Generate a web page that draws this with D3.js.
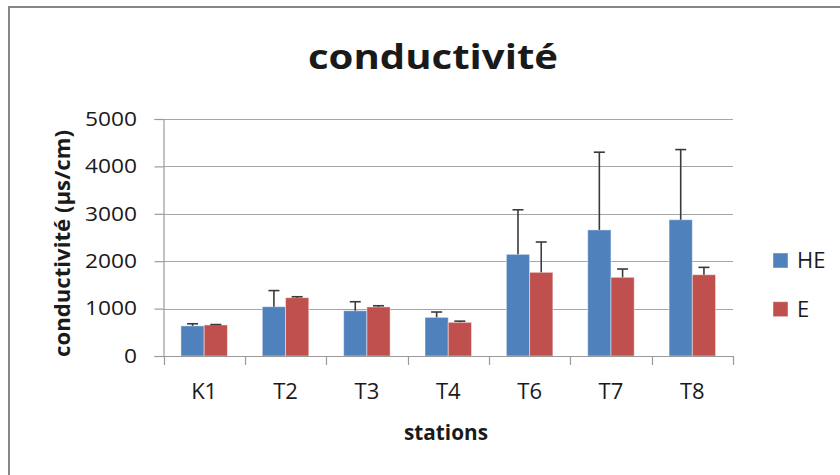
<!DOCTYPE html>
<html>
<head>
<meta charset="utf-8">
<script src="https://cdn.jsdelivr.net/npm/d3@7"></script>
<style>
  html, body { margin: 0; padding: 0; background: #fff; }
  svg { display: block; }
  text { font-family: "Open Sans", "Liberation Sans", sans-serif; fill: #1a1a1a; }
</style>
</head>
<body>
<svg id="chart" width="840" height="475"></svg>
<script>
const categories = ["K1", "T2", "T3", "T4", "T6", "T7", "T8"];
const seriesNames = ["HE", "E"];
const valuesHE = [635, 1040, 955, 815, 2145, 2660, 2875];
const errorsHE = [45, 340, 190, 113, 940, 1640, 1480];
const valuesE = [655, 1230, 1035, 710, 1765, 1660, 1715];
const errorsE = [8, 20, 25, 25, 640, 175, 155];
const yTicks = [0, 1000, 2000, 3000, 4000, 5000];
const colors = ["#4F81BD", "#C0504D"];

const svg = d3.select("#chart");

// chart area border
svg.append("rect")
  .attr("x", 9).attr("y", 7)
  .attr("width", 840).attr("height", 480)
  .attr("fill", "#fff")
  .attr("stroke", "#878787").attr("stroke-width", 2);

const plotLeft = 163.5, plotRight = 733, plotTop = 119, plotBottom = 356;

const x0 = d3.scaleBand().domain(categories).range([plotLeft, plotRight]).paddingInner(0).paddingOuter(0);
const x1 = d3.scaleBand().domain(seriesNames).range([0, x0.bandwidth()]).paddingInner(0).paddingOuter(0.75);
const y = d3.scaleLinear().domain([0, 5000]).range([plotBottom, plotTop]);

// gridlines
svg.append("g").selectAll("line").data(yTicks.filter(d => d > 0)).join("line")
  .attr("x1", plotLeft).attr("x2", plotRight)
  .attr("y1", d => Math.round(y(d)) + 0.5).attr("y2", d => Math.round(y(d)) + 0.5)
  .attr("stroke", "#a6a6a6").attr("stroke-width", 1.2);

// bars
const data = categories.map((c, i) => ({
  cat: c,
  items: [
    { s: "HE", v: valuesHE[i], e: errorsHE[i], color: colors[0] },
    { s: "E", v: valuesE[i], e: errorsE[i], color: colors[1] }
  ]
}));

const groups = svg.append("g").selectAll("g").data(data).join("g")
  .attr("transform", d => `translate(${x0(d.cat)},0)`);

groups.selectAll("rect").data(d => d.items).join("rect")
  .attr("x", d => x1(d.s))
  .attr("y", d => y(d.v))
  .attr("width", x1.bandwidth())
  .attr("height", d => y(0) - y(d.v))
  .attr("fill", d => d.color)
  .attr("stroke", "rgba(255,255,255,0.45)")
  .attr("stroke-width", 1);

// error bars (plus only)
const err = groups.selectAll("g.err").data(d => d.items).join("g").attr("class", "err");
err.append("line")
  .attr("x1", d => x1(d.s) + x1.bandwidth() / 2)
  .attr("x2", d => x1(d.s) + x1.bandwidth() / 2)
  .attr("y1", d => y(d.v))
  .attr("y2", d => y(d.v + d.e))
  .attr("stroke", "#3a3a3a").attr("stroke-width", 1.6);
err.append("line")
  .attr("x1", d => x1(d.s) + x1.bandwidth() / 2 - 5.5)
  .attr("x2", d => x1(d.s) + x1.bandwidth() / 2 + 5.5)
  .attr("y1", d => y(d.v + d.e))
  .attr("y2", d => y(d.v + d.e))
  .attr("stroke", "#3a3a3a").attr("stroke-width", 1.6);

// y axis
const yAxis = svg.append("g")
  .attr("transform", `translate(${plotLeft},0)`)
  .call(d3.axisLeft(y).tickValues(yTicks).tickSize(9).tickPadding(17).tickFormat(d3.format("d")));
yAxis.select(".domain").attr("stroke", "#9a9a9a").attr("stroke-width", 1.2);
yAxis.selectAll(".tick line").attr("stroke", "#9a9a9a").attr("stroke-width", 1.2);
yAxis.selectAll(".tick text")
  .attr("x", 137 - plotLeft)
  .attr("font-size", 19.5)
  .attr("fill", "#1a1a1a")
  .attr("textLength", d => String(d).length * 13)
  .attr("lengthAdjust", "spacingAndGlyphs");

// x axis
const xAxis = svg.append("g")
  .attr("transform", `translate(0,${plotBottom})`)
  .call(d3.axisBottom(x0).tickSize(0).tickPadding(0));
xAxis.select(".domain").attr("stroke", "#9a9a9a").attr("stroke-width", 1.2);
xAxis.selectAll(".tick text")
  .attr("y", 43.3).attr("dy", 0)
  .attr("font-size", 22)
  .attr("fill", "#1a1a1a");
// category boundary tick marks
const bounds = categories.map(c => x0(c)).concat([x0(categories[categories.length - 1]) + x0.bandwidth()]);
svg.append("g").selectAll("line").data(bounds).join("line")
  .attr("x1", d => Math.round(d) + 0.5).attr("x2", d => Math.round(d) + 0.5)
  .attr("y1", plotBottom).attr("y2", plotBottom + 9)
  .attr("stroke", "#9a9a9a").attr("stroke-width", 1.2);

// title
svg.append("text")
  .attr("x", 433).attr("y", 69)
  .attr("text-anchor", "middle")
  .attr("font-size", 34).attr("font-weight", "bold")
  .attr("fill", "#000")
  .attr("textLength", 250).attr("lengthAdjust", "spacingAndGlyphs")
  .text("conductivité");

// x axis title
svg.append("text")
  .attr("x", 446).attr("y", 440)
  .attr("text-anchor", "middle")
  .attr("font-size", 21).attr("font-weight", "bold")
  .attr("fill", "#000")
  .attr("textLength", 84).attr("lengthAdjust", "spacingAndGlyphs")
  .text("stations");

// y axis title
svg.append("text")
  .attr("transform", "translate(70,243.5) rotate(-90)")
  .attr("text-anchor", "middle")
  .attr("font-size", 21).attr("font-weight", "bold")
  .attr("fill", "#000")
  .attr("textLength", 227).attr("lengthAdjust", "spacingAndGlyphs")
  .text("conductivité (µs/cm)");

// legend
const legend = svg.append("g").selectAll("g").data(seriesNames).join("g")
  .attr("transform", (d, i) => `translate(773,${253 + i * 48.7})`);
legend.append("rect")
  .attr("width", 15).attr("height", 15)
  .attr("fill", (d, i) => colors[i])
  .attr("stroke", "rgba(255,255,255,0.45)").attr("stroke-width", 1);
legend.append("text")
  .attr("x", 24).attr("y", 15)
  .attr("font-size", 22)
  .attr("fill", "#1a1a1a")
  .text(d => d);
</script>
</body>
</html>
